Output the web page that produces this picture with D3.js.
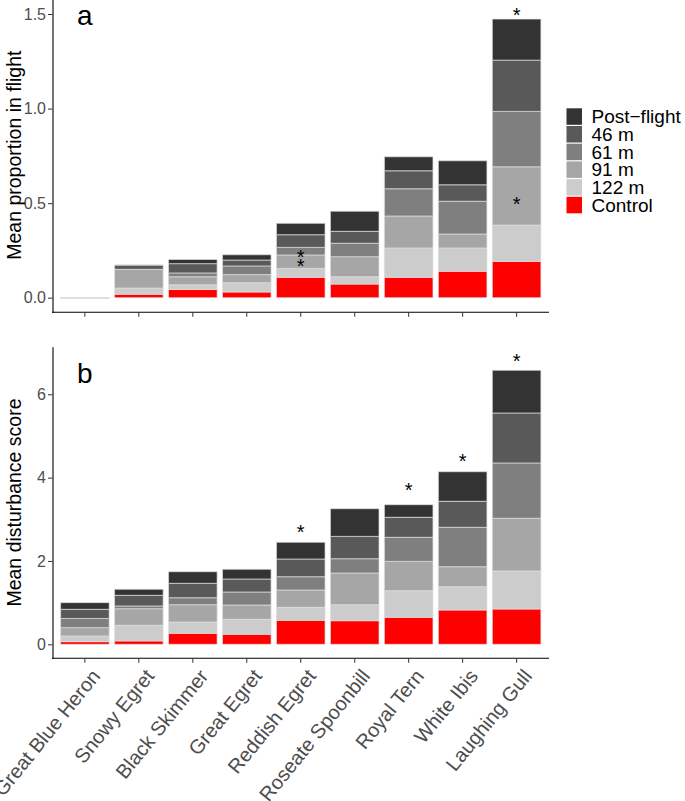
<!DOCTYPE html>
<html><head><meta charset="utf-8">
<script src="https://cdn.jsdelivr.net/npm/d3@7"></script>
<style>
body{margin:0;background:#fff;}
svg{display:block;font-family:"Liberation Sans",Arial,sans-serif;}
</style></head>
<body><svg id="chart" width="685" height="801"></svg>
<script>
// ---------- DATA ----------
const categories = ["Great Blue Heron","Snowy Egret","Black Skimmer","Great Egret","Reddish Egret","Roseate Spoonbill","Royal Tern","White Ibis","Laughing Gull"];
const seriesKeys = ["Control","122 m","91 m","61 m","46 m","Post\u2212flight"];
const seriesColors = ["#ff0000","#cccccc","#a6a6a6","#7f7f7f","#595959","#333333"];

// Panel a: mean proportion in flight (segment values)
const a_control = [0, 0.018, 0.044, 0.030, 0.108, 0.072, 0.108, 0.140, 0.192];
const a_m122    = [0, 0.033, 0.024, 0.049, 0.047, 0.039, 0.155, 0.123, 0.192];
const a_m91     = [0, 0.099, 0.043, 0.043, 0.071, 0.106, 0.169, 0.074, 0.308];
const a_m61     = [0, 0.000, 0.020, 0.046, 0.040, 0.071, 0.144, 0.173, 0.293];
const a_m46     = [0, 0.023, 0.049, 0.031, 0.067, 0.063, 0.095, 0.087, 0.271];
const a_post    = [0, 0.000, 0.022, 0.028, 0.060, 0.106, 0.074, 0.127, 0.217];

// Panel b: mean disturbance score (segment values)
const b_control = [0.063, 0.080, 0.264, 0.240, 0.576, 0.566, 0.648, 0.823, 0.847];
const b_m122    = [0.137, 0.376, 0.271, 0.360, 0.312, 0.384, 0.638, 0.559, 0.912];
const b_m91     = [0.200, 0.398, 0.415, 0.343, 0.415, 0.761, 0.704, 0.480, 1.265];
const b_m61     = [0.220, 0.066, 0.168, 0.312, 0.319, 0.343, 0.578, 0.946, 1.327];
const b_m46     = [0.220, 0.256, 0.346, 0.312, 0.425, 0.536, 0.480, 0.624, 1.200];
const b_post    = [0.160, 0.144, 0.278, 0.233, 0.401, 0.664, 0.302, 0.710, 1.025];

// Significance asterisks (category, value at which the asterisk sits)
const a_starCats = ["Reddish Egret","Reddish Egret","Laughing Gull","Laughing Gull"];
const a_starVals = [0.241, 0.190, 0.522, 1.52];
const b_starCats = ["Reddish Egret","Royal Tern","White Ibis","Laughing Gull"];
const b_starVals = [2.81, 3.81, 4.52, 6.92];

const a_ticks = [0, 0.5, 1.0, 1.5];
const b_ticks = [0, 2, 4, 6];
const a_title = "Mean proportion in flight";
const b_title = "Mean disturbance score";

// ---------- LAYOUT ----------
const svg = d3.select("#chart");
const plotLeft = 52.5, plotRight = 549;
// ggplot-like discrete axis: 0.6 step expansion at each end
const x = d3.scalePoint().domain(categories)
  .range([plotLeft, plotRight]).padding(0.6);
const xc = c => x(c);
const barW = x.step() * 0.9;

function panel(cfg){
  const g = svg.append("g");
  const y = d3.scaleLinear().domain(cfg.domain).range([cfg.bottom, cfg.top]);
  const rows = categories.map((c,i)=>{
    const o = {cat:c};
    cfg.series.forEach((s,k)=>{o[seriesKeys[k]] = s[i];});
    return o;
  });
  const stack = d3.stack().keys(seriesKeys)(rows);
  stack.forEach((layer,k)=>{
    g.append("g").selectAll("path").data(layer).join("path")
      .attr("d", d=>{
        const x0 = xc(d.data.cat)-barW/2, y1 = y(d[1]), h = y(d[0])-y(d[1]);
        return `M${x0},${y1}h${barW}v${h}h${-barW}Z`;
      })
      .attr("fill", seriesColors[k])
      .attr("stroke", "#dedede")
      .attr("stroke-width", 0.7);
  });
  // stars
  g.append("g").selectAll("text").data(cfg.starCats.map((c,i)=>({c, v:cfg.starVals[i]}))).join("text")
    .attr("x", d=>xc(d.c)).attr("y", d=>y(d.v))
    .attr("dy","0.58em")
    .attr("text-anchor","middle")
    .attr("font-size", 20).attr("fill","#000")
    .text("*");
  // y axis
  const ya = g.append("g").attr("transform",`translate(${plotLeft},0)`)
    .call(d3.axisLeft(y).tickValues(cfg.ticks).tickFormat(cfg.fmt).tickSize(4.5).tickSizeOuter(0).tickPadding(2));
  ya.select(".domain").attr("stroke","#000").attr("stroke-width",1.1);
  ya.selectAll(".tick line").attr("stroke","#333").attr("stroke-width",1);
  ya.selectAll(".tick text").attr("font-size",16).attr("fill","#4d4d4d")
    .attr("font-family","'Liberation Sans',Arial,sans-serif");
  // x axis
  const xa = g.append("g").attr("transform",`translate(0,${cfg.bottom})`);
  xa.append("line").attr("x1",plotLeft-0.5).attr("x2",plotRight).attr("y1",0).attr("y2",0)
    .attr("stroke","#000").attr("stroke-width",1.1);
  xa.selectAll("line.tk").data(categories).join("line").attr("class","tk")
    .attr("x1",c=>xc(c)).attr("x2",c=>xc(c)).attr("y1",0).attr("y2",4.5)
    .attr("stroke","#333").attr("stroke-width",1);
  if (cfg.labels){
    xa.selectAll("text").data(categories).join("text")
      .attr("transform", c=>`translate(${xc(c)},5) rotate(-51)`)
      .attr("dy","1.05em")
      .attr("text-anchor","end")
      .attr("font-size",20).attr("fill","#4d4d4d")
      .text(c=>c);
  }
  // y title
  g.append("text")
    .attr("transform",`translate(21,${(cfg.bottom+cfg.top)/2}) rotate(-90)`)
    .attr("text-anchor","middle").attr("font-size",19.5).attr("fill","#000")
    .text(cfg.title);
  // panel letter
  g.append("text").attr("x", xc(categories[0])).attr("y", y(cfg.letterVal))
    .attr("text-anchor","middle").attr("font-size",28).attr("fill","#000")
    .text(cfg.letter);
}

panel({series:[a_control,a_m122,a_m91,a_m61,a_m46,a_post], domain:[-0.0772,1.5846], bottom:312.3, top:-2,
  ticks:a_ticks, fmt:d3.format(".1f"), starCats:a_starCats, starVals:a_starVals, title:a_title, letter:"a", letterVal:1.442, labels:false});
panel({series:[b_control,b_m122,b_m91,b_m61,b_m46,b_post], domain:[-0.336,7.142], bottom:658.3, top:346.7,
  ticks:b_ticks, fmt:d3.format("d"), starCats:b_starCats, starVals:b_starVals, title:b_title, letter:"b", letterVal:6.263, labels:true});

// ---------- LEGEND ----------
const legendOrder = seriesKeys.slice().reverse();
const legendColors = seriesColors.slice().reverse();
const lg = svg.append("g").attr("transform","translate(566.5,108.3)");
const rowH = 17.7;
legendOrder.forEach((k,i)=>{
  lg.append("rect").attr("x",0).attr("y",i*rowH).attr("width",15.5).attr("height",16.5)
    .attr("fill",legendColors[i]);
  lg.append("text").attr("x",25).attr("y",i*rowH+8.25).attr("dy","0.36em")
    .attr("font-size",19).attr("fill","#000").text(k);
});
</script></body></html>
